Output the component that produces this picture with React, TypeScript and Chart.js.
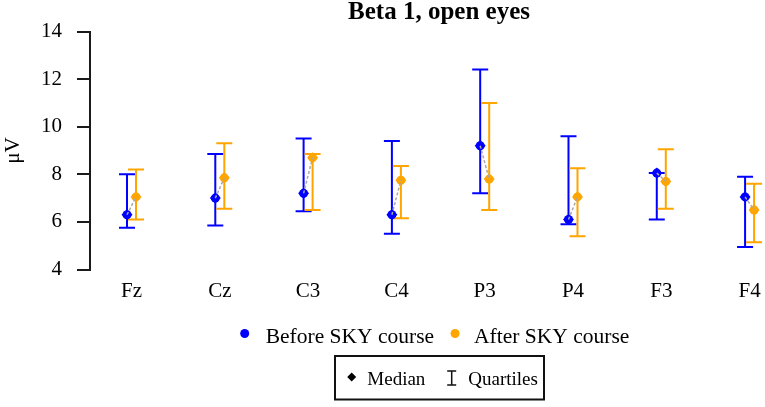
import React, { useEffect, useRef } from 'react';
import { Chart, registerables } from 'chart.js';

Chart.register(...registerables);

const categories = ['Fz', 'Cz', 'C3', 'C4', 'P3', 'P4', 'F3', 'F4'];
const beforeMedian = [6.3, 7.0, 7.2, 6.3, 9.2, 6.1, 8.05, 7.05];
const beforeQ1 = [5.75, 5.85, 6.45, 5.5, 7.2, 5.9, 6.1, 4.95];
const beforeQ3 = [8.0, 8.85, 9.5, 9.4, 12.4, 9.6, 8.05, 7.9];
const afterMedian = [7.05, 7.85, 8.7, 7.75, 7.8, 7.05, 7.7, 6.5];
const afterQ1 = [6.1, 6.55, 6.5, 6.15, 6.5, 5.4, 6.55, 5.15];
const afterQ3 = [8.2, 9.3, 8.85, 8.35, 11.0, 8.25, 9.05, 7.6];
const yTicks = [4, 6, 8, 10, 12, 14];

const seriesLabels = ['Before SKY course', 'After SKY course'];
const titleText = 'Beta 1, open eyes';
const yTitle = 'μV';

const FONT = "'Liberation Serif', 'Times New Roman', serif";
const BLUE = '#0000FF';
const ORANGE = '#FFA500';
const SHIFT = 0.051;

export default function App() {
  const ref = useRef<HTMLCanvasElement>(null);

  useEffect(() => {
    const canvas = ref.current;
    if (!canvas) return;

    const connector: { x: number; y: number | null }[] = [];
    categories.forEach((_, i) => {
      connector.push({ x: i + 1 - SHIFT, y: beforeMedian[i] });
      connector.push({ x: i + 1 + SHIFT, y: afterMedian[i] });
      connector.push({ x: i + 1, y: null });
    });

    const beforePts = beforeMedian.map((v, i) => ({ x: i + 1 - SHIFT, y: v }));
    const afterPts = afterMedian.map((v, i) => ({ x: i + 1 + SHIFT, y: v }));

    const errorBars = {
      id: 'errorBars',
      beforeDatasetsDraw(chart: any) {
        const { ctx, scales } = chart;
        const xs = scales.x;
        const ys = scales.y;
        const draw = (shift: number, lo: number[], hi: number[], color: string) => {
          ctx.save();
          ctx.strokeStyle = color;
          ctx.lineWidth = 2;
          categories.forEach((_, i) => {
            const px = xs.getPixelForValue(i + 1 + shift);
            const y1 = ys.getPixelForValue(lo[i]);
            const y2 = ys.getPixelForValue(hi[i]);
            ctx.beginPath();
            ctx.moveTo(px, y1);
            ctx.lineTo(px, y2);
            ctx.moveTo(px - 8, y1);
            ctx.lineTo(px + 8, y1);
            ctx.moveTo(px - 8, y2);
            ctx.lineTo(px + 8, y2);
            ctx.stroke();
          });
          ctx.restore();
        };
        draw(-SHIFT, beforeQ1, beforeQ3, BLUE);
        draw(SHIFT, afterQ1, afterQ3, ORANGE);
      },
    };

    const legends = {
      id: 'customLegends',
      afterDraw(chart: any) {
        const { ctx, chartArea } = chart;
        const cx = (chartArea.left + chartArea.right) / 2;
        ctx.save();
        // series legend
        ctx.font = `21.5px ${FONT}`;
        ctx.textBaseline = 'alphabetic';
        ctx.textAlign = 'left';
        const w1 = ctx.measureText(seriesLabels[0]).width;
        const w2 = ctx.measureText(seriesLabels[1]).width;
        const total = 65.5 + w1 + w2;
        const start = cx - 4.25 - total / 2;
        const dot1 = start + 4.5;
        const t1 = start + 25.5;
        const dot2 = t1 + w1 + 21;
        const t2 = dot2 + 19;
        const ly = 342.5;
        const dy = 333.5;
        ctx.fillStyle = BLUE;
        ctx.beginPath();
        ctx.arc(dot1, dy, 4.5, 0, Math.PI * 2);
        ctx.fill();
        ctx.fillStyle = ORANGE;
        ctx.beginPath();
        ctx.arc(dot2, dy, 4.5, 0, Math.PI * 2);
        ctx.fill();
        ctx.fillStyle = '#000';
        ctx.fillText(seriesLabels[0], t1, ly);
        ctx.fillText(seriesLabels[1], t2, ly);

        // median / quartiles box
        const bl = cx - 104;
        ctx.strokeStyle = '#111';
        ctx.lineWidth = 2;
        ctx.strokeRect(bl, 356, 209, 43.5);
        const my = 377;
        const dxm = bl + 16.7;
        ctx.fillStyle = '#000';
        ctx.beginPath();
        ctx.moveTo(dxm, my - 4.5);
        ctx.lineTo(dxm + 4.5, my);
        ctx.lineTo(dxm, my + 4.5);
        ctx.lineTo(dxm - 4.5, my);
        ctx.closePath();
        ctx.fill();
        ctx.font = `19px ${FONT}`;
        ctx.fillText('Median', bl + 32.3, 384.5);
        const ix = bl + 116.7;
        ctx.lineWidth = 1.5;
        ctx.beginPath();
        ctx.moveTo(ix, 371);
        ctx.lineTo(ix, 385);
        ctx.moveTo(ix - 4.5, 371);
        ctx.lineTo(ix + 4.5, 371);
        ctx.moveTo(ix - 4.5, 385);
        ctx.lineTo(ix + 4.5, 385);
        ctx.stroke();
        ctx.fillText('Quartiles', bl + 133.3, 384.5);
        ctx.restore();
      },
    };

    const pointSet = (label: string, data: any[], color: string, style: string, r: number) => ({
      label,
      data,
      backgroundColor: color,
      borderColor: color,
      pointStyle: style,
      pointRadius: r,
      pointBorderWidth: 0,
    });

    const chart = new Chart(canvas, {
      type: 'scatter',
      data: {
        datasets: [
          {
            label: 'link',
            data: connector as any,
            showLine: true,
            borderColor: '#a8a8a8',
            borderWidth: 1.5,
            borderDash: [3, 2],
            pointRadius: 0,
            spanGaps: false,
          },
          pointSet(seriesLabels[0], beforePts, BLUE, 'circle', 4.5) as any,
          pointSet(seriesLabels[0] + ' median', beforePts, BLUE, 'rectRot', 5.5) as any,
          pointSet(seriesLabels[1], afterPts, ORANGE, 'circle', 4.5) as any,
          pointSet(seriesLabels[1] + ' median', afterPts, ORANGE, 'rectRot', 5.5) as any,
        ],
      },
      options: {
        responsive: false,
        animation: false,
        devicePixelRatio: 1,
        layout: { padding: { left: 0, right: 12, top: 0, bottom: 0 } },
        plugins: {
          legend: { display: false },
          tooltip: { enabled: false },
          title: {
            display: true,
            text: titleText,
            fullSize: false,
            color: '#000',
            font: { family: FONT, size: 25, weight: 'bold', lineHeight: 1 },
            padding: { top: 0, bottom: 6.5 },
          },
        },
        scales: {
          x: {
            type: 'linear',
            min: 0.53,
            max: 8.435,
            afterBuildTicks: (s: any) => {
              s.ticks = categories.map((_, i) => ({ value: i + 1 }));
            },
            afterFit: (s: any) => {
              s.height = 137.5;
            },
            grid: { display: false, drawTicks: false },
            border: { display: false },
            ticks: {
              autoSkip: false,
              maxRotation: 0,
              padding: 9,
              color: '#000',
              font: { family: FONT, size: 21 },
              callback: (v: any) => categories[Math.round(Number(v)) - 1] ?? '',
            },
          },
          y: {
            type: 'linear',
            min: 4,
            max: 14,
            afterBuildTicks: (s: any) => {
              s.ticks = yTicks.map((v) => ({ value: v }));
            },
            afterFit: (s: any) => {
              s.width = 90;
            },
            grid: {
              display: true,
              drawOnChartArea: false,
              drawTicks: true,
              tickLength: 13,
              color: '#1a1a1a',
              lineWidth: 2,
            },
            border: { display: true, color: '#1a1a1a', width: 2 },
            ticks: {
              padding: 15,
              color: '#000',
              font: { family: FONT, size: 21 },
            },
            title: {
              display: true,
              text: yTitle,
              color: '#000',
              font: { family: FONT, size: 21 },
              padding: { top: 1, bottom: 0 },
            },
          },
        },
      },
      plugins: [errorBars, legends],
    });

    return () => chart.destroy();
  }, []);

  return (
    <div
      style={{
        position: 'fixed',
        left: 0,
        top: 0,
        width: 765,
        height: 407,
        overflow: 'hidden',
        background: '#fff',
      }}
    >
      <canvas ref={ref} width={800} height={407} style={{ display: 'block', width: 800, height: 407 }} />
    </div>
  );
}
